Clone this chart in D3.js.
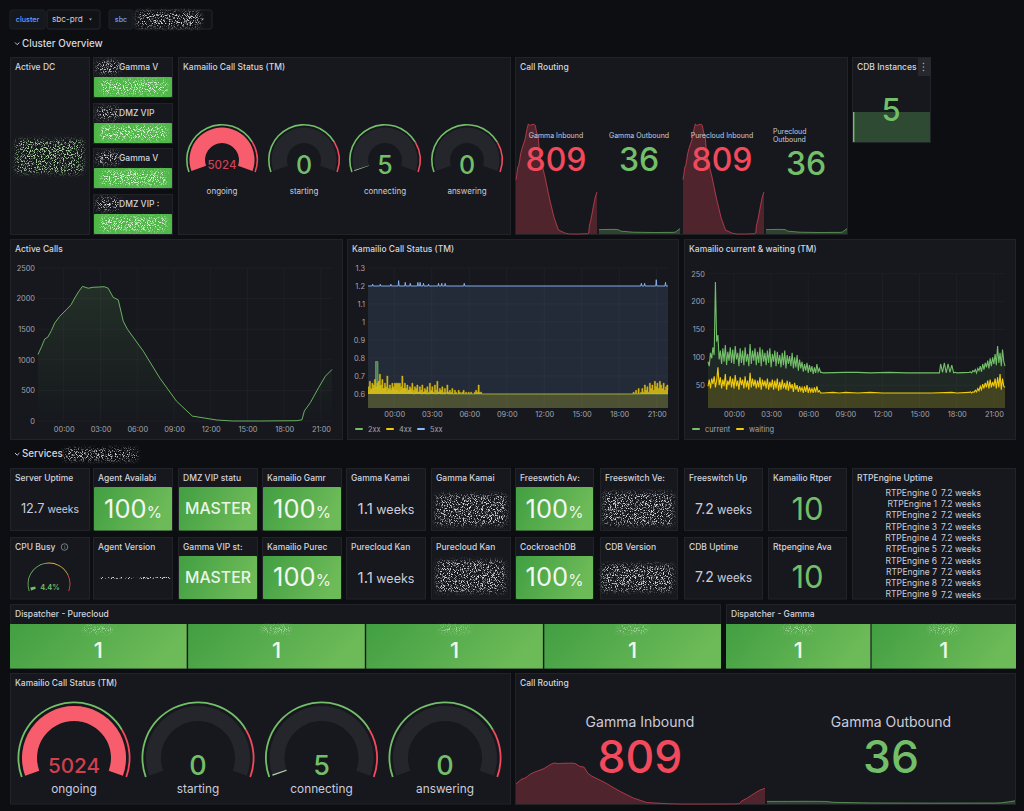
<!DOCTYPE html>
<html>
<head>
<meta charset="utf-8">
<script src="https://cdn.jsdelivr.net/npm/d3@7"></script>
<style>
  html, body { margin: 0; padding: 0; background: #0c0e12; overflow: hidden; }
  svg { display: block; font-family: Inter, "Noto Sans", sans-serif; }
  .axis text { fill: #a3a5ad; font-size: 7.4px; font-family: Inter, sans-serif; }
  .axis path, .axis line { display: none; }
</style>
</head>
<body>
<svg id="board" width="1024" height="811"></svg>
<script>
// hours relative to midnight, picked off the Active Calls curve
const callHours = [-2.1,-1.8,-1.55,-1.3,-1.0,-0.74,-0.33,0.22,0.6,0.9,1.2,1.53,2,2.4,2.95,3.3,3.63,4.04,4.45,4.86,5.2,6.5,7.85,9.2,10.5,12.5,13.8,16,19.04,19.45,19.64,20.13,20.8,21.36,21.9];
const activeCalls = [1087,1220,1340,1370,1480,1600,1710,1820,1900,2010,2110,2200,2170,2185,2190,2195,2170,2020,1980,1630,1500,1140,700,326,80,16,0,0,5,20,163,300,543,733,842];

const outboundHours = [-2.1,-1,0,1.5,3,3.6,4.4,8,14,20,20.6,21.3,21.9];
const outboundCalls = [29,30,30,31,30,29,19,12,10,11,14,26,36];

// 2xx, one sample every 0.2h from -2.1h
const sampleStart = -2.1;
const sampleStep = 0.2;
const status2xx = [.61,.62,.63,.78,.64,.62,.63,.61,.62,.63,.62,.62,.61,.62,.63,.61,.62,.61,.60,.61,
  .61,.60,.61,.60,.60,.61,.60,.60,.61,.60,.60,.61,.60,.60,.60,.60,.60,.60,.60,.60,
  .60,.60,.60,.60,.60,.60,.60,.60,.60,.60,.60,.60,.60,.60,.60,.60,.60,.60,.60,.60,
  .60,.60,.60,.60,.60,.60,.60,.60,.60,.60,.60,.60,.60,.60,.60,.60,.60,.60,.60,.60,
  .60,.60,.60,.60,.60,.60,.60,.60,.60,.60,.60,.60,.60,.60,.60,.60,.60,.60,.60,.60,
  .60,.60,.60,.60,.60,.60,.60,.60,.60,.60,.60,.60,.60,.60,.60,.60,.60,.60,.60,.60,.60];

// 4xx, current & waiting: busy stretches every 0.1h, quiet middle as knots
const early4xx = [.64,.67,.63,.66,.65,.68,.64,.66,.67,.71,
  .65,.68,.63,.66,.64,.70,.63,.65,.62,.66,
  .64,.66,.66,.66,.66,.66,.64,.70,.63,.66,
  .63,.65,.62,.64,.63,.66,.62,.64,.63,.65,
  .61,.64,.62,.65,.61,.63,.62,.64,.61,.66,
  .62,.64,.61,.65,.62,.67,.61,.63,.62,.64,
  .61,.63,.60,.65,.61,.62,.61,.63,.60,.62,
  .61,.60,.62,.61,.60,.61,.62,.60,.61,.60,
  .61,.60,.61,.60,.60,.61,.62,.61,.65,.61,
  .61,.60,.60];
const mid4xxHours = [7.2, 19];
const mid4xx = [.60, .60];
const late4xx = [.61,.60,.62,.60,.63,.60,.61,.63,.61,.65,.62,.64,.61,.66,.63,.65,.62,.67,.64,.66,.63,.67,.65,.63,.66,.62,.64,.65,.62];

const spike5xxHours = [-1.73,-1.12,-.27,.35,.88,1.28,1.89,2.07,2.34,2.74,3.54,3.8,4.07,5.6,19.77,20.03,20.96,21.7];
const spike5xxTops = [1.21,1.21,1.21,1.23,1.22,1.215,1.22,1.22,1.215,1.21,1.215,1.215,1.215,1.215,1.215,1.215,1.235,1.22];

const earlyCurrent = [92,84,108,98,118,104,235,128,140,96,
  112,88,116,92,122,86,110,94,118,90,
  114,88,120,96,108,84,116,90,112,86,
  118,92,106,84,124,88,112,94,116,86,
  110,90,118,84,114,92,108,86,112,90,
  116,82,106,92,112,84,110,88,104,82,
  108,86,112,80,104,88,102,84,108,80,
  100,82,104,76,96,80,92,74,88,76,
  90,72,86,74,84,70,82,72,88,74,
  80,73,73];
const midCurrentHours = [7.2,9,10,11,12.5,14,16.6,16.7,16.85,17,17.15,17.3,17.45,17.6,17.75,17.9,18,19];
const midCurrent = [72,73,73,72,73,72,72,88,73,90,72,88,73,86,72,73,72,73];
const lateCurrent = [74,72,76,74,78,72,80,76,84,74,88,78,90,82,94,80,98,84,100,88,106,86,120,90,108,84,114,92,84];

const earlyWaiting = [48,60,44,62,52,66,46,58,82,50,
  64,44,60,48,70,42,58,50,66,46,
  62,44,68,48,58,42,64,50,60,44,
  66,46,58,42,72,46,62,48,60,44,
  58,46,64,42,60,48,58,44,62,42,
  56,46,60,42,58,44,62,40,56,42,
  60,44,54,42,58,40,56,44,52,38,
  54,42,50,38,48,40,46,36,48,38,
  50,36,46,38,44,36,46,37,48,38,
  40,36,36];
const midWaitingHours = [7.2,8,8.5,9,10,11,12,14,16,17.6,18,19];
const midWaiting = [36,37,36,37,36,37,36,36,36,37,36,37];
const lateWaiting = [38,36,38,37,41,38,44,40,48,42,52,44,54,46,58,44,60,46,56,48,62,44,64,46,70,42,62,48,46];

const hourTicks = [0, 3, 6, 9, 12, 15, 18, 21];
const activeTicks = [0, 500, 1000, 1500, 2000, 2500];
const statusTicks = [0.6, 0.7, 0.8, 0.9, 1, 1.1, 1.2, 1.3];
const currentTicks = [50, 100, 150, 200, 250];

const gaugeNames = ['ongoing', 'starting', 'connecting', 'answering'];
const gaugeValues = [5024, 0, 5, 0];

const serviceTitlesTop = ['Server Uptime', 'Agent Availabi', 'DMZ VIP statu', 'Kamailio Gamr', 'Gamma Kamai', 'Gamma Kamai', 'Freeswtich Av:', 'Freeswitch Ve:', 'Freeswitch Up', 'Kamailio Rtper'];
const serviceValuesTop = ['12.7 weeks', '100%', 'MASTER', '100%', '1.1 weeks', null, '100%', null, '7.2 weeks', '10'];
const serviceTitlesBottom = ['CPU Busy', 'Agent Version', 'Gamma VIP st:', 'Kamailio Purec', 'Purecloud Kan', 'Purecloud Kan', 'CockroachDB', 'CDB Version', 'CDB Uptime', 'Rtpengine Ava'];
const serviceValuesBottom = [null, null, 'MASTER', '100%', '1.1 weeks', null, '100%', null, '7.2 weeks', '10'];

const rtpEngines = ['RTPEngine 0', 'RTPEngine 1', 'RTPEngine 2', 'RTPEngine 3', 'RTPEngine 4', 'RTPEngine 5', 'RTPEngine 6', 'RTPEngine 7', 'RTPEngine 8', 'RTPEngine 9'];
const rtpUptime = ['7.2 weeks', '7.2 weeks', '7.2 weeks', '7.2 weeks', '7.2 weeks', '7.2 weeks', '7.2 weeks', '7.2 weeks', '7.2 weeks', '7.2 weeks'];

const dispatcherPurecloud = [1, 1, 1, 1];
const dispatcherGamma = [1, 1];
const vipTitles = ['Gamma V', 'DMZ VIP', 'Gamma V', 'DMZ VIP :'];

const GREEN = '#73bf69', RED = '#f2495c', YELLOW = '#f2cc0c', BLUE = '#8ab8ff', TEXT = '#ccccdc', DIM = '#a3a5ad';

const svg = d3.select('#board');
const defs = svg.append('defs');

const statFill = defs.append('linearGradient').attr('id', 'statFill').attr('x1', 0).attr('x2', 1).attr('y1', 0).attr('y2', 0.25);
statFill.append('stop').attr('offset', 0).attr('stop-color', '#419f42');
statFill.append('stop').attr('offset', 1).attr('stop-color', '#6dba58');

const callsFill = defs.append('linearGradient').attr('id', 'callsFill').attr('x1', 0).attr('x2', 0).attr('y1', 0).attr('y2', 1);
callsFill.append('stop').attr('offset', 0).attr('stop-color', GREEN).attr('stop-opacity', 0.14);
callsFill.append('stop').attr('offset', 1).attr('stop-color', GREEN).attr('stop-opacity', 0);

// speckle used for the blurred-out hostnames
function speckle(id, rgb, soft) {
  const f = defs.append('filter').attr('id', id).attr('x', '-15%').attr('y', '-30%').attr('width', '130%').attr('height', '160%');
  f.append('feTurbulence').attr('type', 'fractalNoise').attr('baseFrequency', 1.15).attr('numOctaves', 2).attr('seed', 4).attr('result', 'n');
  f.append('feColorMatrix').attr('in', 'n').attr('type', 'matrix')
    .attr('values', `0 0 0 0 ${rgb[0]} 0 0 0 0 ${rgb[1]} 0 0 0 0 ${rgb[2]} 0 0 0 -6 2.95`).attr('result', 'dots');
  f.append('feGaussianBlur').attr('in', 'SourceAlpha').attr('stdDeviation', soft).attr('result', 'soft');
  f.append('feComposite').attr('in', 'dots').attr('in2', 'soft').attr('operator', 'in');
}
speckle('noiseGrey', [0.66, 0.66, 0.68], 2.4);
speckle('noiseGreen', [0.42, 0.68, 0.36], 2.8);
speckle('noiseLight', [0.85, 0.95, 0.82], 2.2);
speckle('noiseThin', [0.7, 0.7, 0.72], 0.4);

function noise(x, y, w, h, id, opacity) {
  svg.append('rect').attr('x', x).attr('y', y).attr('width', w).attr('height', h).attr('rx', 3).attr('fill', '#fff')
    .attr('opacity', opacity || 1).attr('filter', `url(#${id})`);
}

function label(parent, x, y, str, size, color, anchor, weight) {
  return parent.append('text').attr('x', x).attr('y', y).attr('dy', '0.35em')
    .attr('text-anchor', anchor || 'start').attr('font-size', size).attr('fill', color || TEXT)
    .attr('font-weight', weight || 400).text(str);
}

function panel(x, y, w, h, title) {
  svg.append('rect').attr('x', x + 0.5).attr('y', y + 0.5).attr('width', w - 1).attr('height', h - 1)
    .attr('fill', '#16181d').attr('stroke', '#212328');
  if (title) label(svg, x + 5, y + 10.5, title, 8.5, '#d3d4de', 'start', 500);
}

function chevron(x, y) {
  svg.append('path').attr('d', `M${x},${y} l2.2,2.2 l2.2,-2.2`).attr('fill', 'none').attr('stroke', TEXT).attr('stroke-width', 1);
}

// ---- top bar
[[10, 35, 'cluster'], [109, 24, 'sbc']].forEach(([x, w, t]) => {
  svg.append('rect').attr('x', x).attr('y', 10).attr('width', w).attr('height', 19).attr('rx', 2).attr('fill', '#15181d').attr('stroke', '#1f2126');
  label(svg, x + w / 2, 19.5, t, 7.2, '#6e9fff', 'middle', 500);
});
[[47, 53], [135, 77]].forEach(([x, w]) => {
  svg.append('rect').attr('x', x).attr('y', 10).attr('width', w).attr('height', 19).attr('rx', 2).attr('fill', '#101216').attr('stroke', '#25272c');
  svg.append('path').attr('d', `M${x + w - 11},18.5 l3,0 l-1.5,2 z`).attr('fill', DIM);
});
label(svg, 52, 19.5, 'sbc-prd', 8.2, TEXT);
noise(137, 12, 63, 15, 'noiseGrey');

chevron(15, 42.5);
label(svg, 22, 43.5, 'Cluster Overview', 9.8, '#d8d9de', 'start', 500);
chevron(15, 453);
label(svg, 22, 454, 'Services', 9.8, '#d8d9de', 'start', 500);
noise(64, 449, 73, 11, 'noiseGrey');

// ---- cluster overview row
panel(10, 57, 80, 178, 'Active DC');
noise(16, 140, 67, 33, 'noiseGreen');

const vipY = [57, 103, 148, 194];
vipTitles.forEach((t, i) => {
  const y = vipY[i];
  panel(93, y, 80, 41);
  noise(97, y + 4, 22, 12, 'noiseGrey');
  label(svg, 119, y + 10.5, t, 8.5, '#d3d4de', 'start', 500);
  svg.append('rect').attr('x', 94).attr('y', y + 20).attr('width', 78).attr('height', 20).attr('rx', 1).attr('fill', '#4fb748');
  noise(101, y + 23, 66, 14, 'noiseLight');
});

const gaugeArc = d3.arc();
const gaugeAngle = d3.scaleLinear().domain([0, 1]).range([-110, 110]).clamp(true);
const rad = d => d * Math.PI / 180;

function drawGauge(parent, cx, cy, r, value, name, opts) {
  const g = parent.append('g').attr('transform', `translate(${cx},${cy})`);
  const arc = (a0, a1, r0, r1) => gaugeArc({ innerRadius: r0, outerRadius: r1, startAngle: rad(a0), endAngle: rad(a1) });
  g.append('path').attr('d', arc(gaugeAngle(0), gaugeAngle(0.77), r - opts.ring, r)).attr('fill', GREEN);
  g.append('path').attr('d', arc(gaugeAngle(0.77), gaugeAngle(1), r - opts.ring, r)).attr('fill', RED);
  g.append('path').attr('d', arc(gaugeAngle(0), gaugeAngle(1), opts.r0, opts.r1)).attr('fill', '#24262c');
  const share = value / 5000;
  if (share > 0) {
    const end = Math.max(gaugeAngle(share), gaugeAngle(0) + 1.4);
    g.append('path').attr('d', arc(gaugeAngle(0), end, opts.r0, opts.r1))
      .attr('fill', share >= 0.77 ? '#f85d6d' : '#b9d8b2');
  }
  const hot = value >= 1000;
  label(g, 0, opts.textY, value, hot ? opts.hotSize : opts.size, hot ? '#d23f50' : GREEN, 'middle', 500);
  label(g, 0, opts.nameY, name, opts.nameSize, TEXT, 'middle');
}

panel(178, 57, 333, 178, 'Kamailio Call Status (TM)');
const smallGaugeX = [222, 304, 385, 467];
gaugeNames.forEach((n, i) => drawGauge(svg, smallGaugeX[i], 160, 36, gaugeValues[i], n,
  { ring: 1.6, r0: 17, r1: 32.5, size: 25, hotSize: 11.5, textY: 5, nameY: 31, nameSize: 8 }));

panel(515, 57, 333, 178, 'Call Routing');

// sparkline shared by the call routing panels
function spark(x0, x1, yBottom, height, hours, values, top, color) {
  const x = d3.scaleLinear().domain([-2.1, 21.9]).range([x0, x1]);
  const y = d3.scaleLinear().domain([0, top]).range([yBottom, yBottom - height]);
  const pts = hours.map((h, i) => [h, values[i]]);
  svg.append('path').datum(pts).attr('fill', color).attr('fill-opacity', 0.26)
    .attr('d', d3.area().x(d => x(d[0])).y0(yBottom).y1(d => y(d[1])));
  svg.append('path').datum(pts).attr('fill', 'none').attr('stroke', color).attr('stroke-width', 0.9).attr('stroke-opacity', 0.7)
    .attr('d', d3.line().x(d => x(d[0])).y(d => y(d[1])));
}

spark(516, 597, 234, 110, callHours, activeCalls, 2200, RED);
spark(599, 680, 234, 6, outboundHours, outboundCalls, 40, GREEN);
spark(683, 764, 234, 110, callHours, activeCalls, 2200, RED);
spark(766, 847, 234, 6, outboundHours, outboundCalls, 40, GREEN);
label(svg, 556, 135.5, 'Gamma Inbound', 7, TEXT, 'middle');
label(svg, 639, 135.5, 'Gamma Outbound', 7, TEXT, 'middle');
label(svg, 722, 135.5, 'Purecloud Inbound', 7, TEXT, 'middle');
label(svg, 773, 131.5, 'Purecloud', 7, TEXT);
label(svg, 773, 139.5, 'Outbound', 7, TEXT);
label(svg, 556, 160, '809', 32, RED, 'middle', 500);
label(svg, 639, 160, '36', 32, GREEN, 'middle', 500);
label(svg, 722, 160, '809', 32, RED, 'middle', 500);
label(svg, 806, 164, '36', 32, GREEN, 'middle', 500);

panel(852, 57, 79, 86, 'CDB Instances');
svg.append('rect').attr('x', 853).attr('y', 112).attr('width', 77).attr('height', 30).attr('fill', '#2f4a33');
svg.append('rect').attr('x', 853).attr('y', 112).attr('width', 1.4).attr('height', 30).attr('fill', GREEN);
svg.append('rect').attr('x', 918).attr('y', 58).attr('width', 13).attr('height', 18).attr('fill', '#26282d');
[63.5, 67, 70.5].forEach(y => svg.append('circle').attr('cx', 923.5).attr('cy', y).attr('r', 0.8).attr('fill', DIM));
label(svg, 891, 110, '5', 31, GREEN, 'middle', 500);

// ---- time series row
function timePanel(x0, x1, yBottom, yTop, domain, ticks, tickRight, labelY) {
  const x = d3.scaleLinear().domain([-2.1, 21.9]).range([x0, x1]);
  const y = d3.scaleLinear().domain(domain).range([yBottom, yTop]);
  const grid = svg.append('g').attr('stroke', '#fff').attr('stroke-opacity', 0.03);
  hourTicks.forEach(h => grid.append('line').attr('x1', x(h)).attr('x2', x(h)).attr('y1', yTop).attr('y2', yBottom));
  ticks.forEach(t => grid.append('line').attr('x1', x0).attr('x2', x1).attr('y1', y(t)).attr('y2', y(t)));
  const xAxis = d3.axisBottom(x).tickValues(hourTicks).tickSize(0).tickPadding(0)
    .tickFormat(h => String(h).padStart(2, '0') + ':00');
  svg.append('g').attr('class', 'axis').attr('transform', `translate(0,${labelY - 4.5})`).call(xAxis);
  const yAxis = d3.axisLeft(y).tickValues(ticks).tickSize(0).tickPadding(0).tickFormat(d3.format('~g'));
  svg.append('g').attr('class', 'axis').attr('transform', `translate(${tickRight},0)`).call(yAxis);
  return { x, y, yBottom };
}

function series(plot, pts, color, fillOpacity, curve, width, strokeOpacity) {
  svg.append('path').datum(pts).attr('fill', color).attr('fill-opacity', fillOpacity)
    .attr('d', d3.area().curve(curve).x(d => plot.x(d[0])).y0(plot.yBottom).y1(d => plot.y(d[1])));
  svg.append('path').datum(pts).attr('fill', 'none').attr('stroke', color).attr('stroke-width', width)
    .attr('stroke-opacity', strokeOpacity || 1)
    .attr('d', d3.line().curve(curve).x(d => plot.x(d[0])).y(d => plot.y(d[1])));
}

// bright block between a series and its 0.6 floor, the dense spikes of the status panel
function floorFill(plot, pts, color, opacity) {
  svg.append('path').datum(pts).attr('fill', color).attr('fill-opacity', opacity)
    .attr('d', d3.area().curve(d3.curveStepAfter).x(d => plot.x(d[0])).y0(plot.y(0.6)).y1(d => plot.y(d[1])));
}

function legend(entries, y) {
  entries.forEach(([x, color, name]) => {
    svg.append('rect').attr('x', x).attr('y', y - 1).attr('width', 8).attr('height', 2).attr('rx', 1).attr('fill', color);
    label(svg, x + 13, y, name, 7.4, DIM);
  });
}

const sampled = vals => vals.map((v, i) => [sampleStart + i * sampleStep, v]);
const stitched = (early, midHours, mid, late) => [
  ...early.map((v, i) => [-2.1 + i * 0.1, v]),
  ...mid.map((v, i) => [midHours[i], v]),
  ...late.map((v, i) => [19.1 + i * 0.1, v])
];

panel(10, 239, 333, 201, 'Active Calls');
const callsPlot = timePanel(38, 332, 421, 268, [0, 2500], activeTicks, 35, 431);
const callPts = callHours.map((h, i) => [h, activeCalls[i]]);
svg.append('path').datum(callPts).attr('fill', 'url(#callsFill)')
  .attr('d', d3.area().x(d => callsPlot.x(d[0])).y0(421).y1(d => callsPlot.y(d[1])));
svg.append('path').datum(callPts).attr('fill', 'none').attr('stroke', GREEN).attr('stroke-width', 0.9)
  .attr('d', d3.line().x(d => callsPlot.x(d[0])).y(d => callsPlot.y(d[1])));

panel(347, 239, 332, 201, 'Kamailio Call Status (TM)');
const statusPlot = timePanel(368, 668, 408, 268, [0.522, 1.3], statusTicks, 365, 416);
const spikePts = [[-2.1, 1.2], ...spike5xxHours.flatMap((h, i) => [[h - 0.04, 1.2], [h, spike5xxTops[i]], [h + 0.04, 1.2]]), [21.9, 1.2]];
const points4xx = stitched(early4xx, mid4xxHours, mid4xx, late4xx);
series(statusPlot, spikePts, BLUE, 0.12, d3.curveLinear, 0.9);
series(statusPlot, sampled(status2xx), GREEN, 0.1, d3.curveStepAfter, 0.7, 0.8);
floorFill(statusPlot, sampled(status2xx), GREEN, 0.55);
series(statusPlot, points4xx, YELLOW, 0.17, d3.curveStepAfter, 0.6, 0.6);
floorFill(statusPlot, points4xx, '#e3c40f', 0.82);
legend([[355, GREEN, '2xx'], [386, YELLOW, '4xx'], [417, BLUE, '5xx']], 429);

panel(684, 239, 332, 201, 'Kamailio current & waiting (TM)');
const currentPlot = timePanel(708, 1005, 408, 273.7, [9, 250], currentTicks, 705, 416);
series(currentPlot, stitched(earlyCurrent, midCurrentHours, midCurrent, lateCurrent), GREEN, 0.1, d3.curveLinear, 1.1);
series(currentPlot, stitched(earlyWaiting, midWaitingHours, midWaiting, lateWaiting), YELLOW, 0.17, d3.curveLinear, 1.1);
legend([[692, GREEN, 'current'], [736, YELLOW, 'waiting']], 429);

// ---- services grid
const colX = [10, 93, 178, 262, 346, 431, 515, 600, 684, 768];
const colW = [80, 80, 80, 80, 80, 80, 79, 78, 79, 79];
const weekSizes = { '12.7': [12.7, 10.4], '1.1': [15, 12.5], '7.2': [14, 11.5] };

function statValue(cx, cy, x, y, w, h, value) {
  if (value === 'MASTER' || value === '100%') {
    svg.append('rect').attr('x', x + 1).attr('y', y).attr('width', w - 2).attr('height', h).attr('rx', 1).attr('fill', 'url(#statFill)');
  }
  if (value === 'MASTER') {
    label(svg, cx, cy, value, 15.8, '#eaf5e6', 'middle', 500);
  } else if (value === '100%') {
    const t = label(svg, cx, cy, '100', 25.5, '#f2f7ef', 'middle', 400);
    t.append('tspan').attr('font-size', 15.5).text('%');
  } else if (value && value.endsWith('weeks')) {
    const num = value.split(' ')[0];
    const t = label(svg, cx, cy, num, weekSizes[num][0], TEXT, 'middle', 400);
    t.append('tspan').attr('font-size', weekSizes[num][1]).text(' weeks');
  } else if (value) {
    label(svg, cx, cy, value, 31, GREEN, 'middle', 400);
  }
}

const rowTop = { y: 468, h: 63, fillY: 487, fillH: 43.5 };
const rowBottom = { y: 537, h: 62.5, fillY: 556, fillH: 43 };
[[rowTop, serviceTitlesTop, serviceValuesTop], [rowBottom, serviceTitlesBottom, serviceValuesBottom]].forEach(([row, titles, values]) => {
  titles.forEach((t, i) => {
    panel(colX[i], row.y, colW[i], row.h, t);
    statValue(colX[i] + colW[i] / 2, row.fillY + row.fillH / 2, colX[i], row.fillY, colW[i], row.fillH, values[i]);
  });
});
noise(436, 495, 70, 30, 'noiseGrey');
noise(437, 561, 68, 31, 'noiseGrey');
noise(604, 493, 69, 32, 'noiseGrey');
noise(602, 565, 71, 26, 'noiseGrey');
noise(99, 577, 72, 2, 'noiseThin');

// cpu busy mini gauge
const cpuGauge = svg.append('g').attr('transform', 'translate(49,584)');
const cpuAngle = d3.scaleLinear().domain([0, 100]).range([-110, 110]);
const cpuBands = [[0, 45, GREEN], [45, 80, '#d7b13b'], [80, 100, RED]];
cpuBands.forEach(([a, b, c]) => cpuGauge.append('path').attr('fill', c)
  .attr('d', gaugeArc({ innerRadius: 20.6, outerRadius: 21.4, startAngle: rad(cpuAngle(a)), endAngle: rad(cpuAngle(b)) })));
cpuGauge.append('path').attr('fill', GREEN)
  .attr('d', gaugeArc({ innerRadius: 14, outerRadius: 19, startAngle: rad(cpuAngle(0)), endAngle: rad(cpuAngle(4.4)) }));
label(cpuGauge, 1, 3, '4.4%', 7.5, GREEN, 'middle', 600);
svg.append('circle').attr('cx', 64.5).attr('cy', 547).attr('r', 3.3).attr('fill', 'none').attr('stroke', DIM).attr('stroke-width', 0.7);
label(svg, 64.5, 547, 'i', 5, DIM, 'middle');

// rtpengine list
panel(852, 468, 164, 131.5, 'RTPEngine Uptime');
const rtpRow = d3.scalePoint().domain(d3.range(rtpEngines.length)).range([492.7, 594.5]);
rtpEngines.forEach((name, i) => {
  label(svg, 937, rtpRow(i), name, 8.5, TEXT, 'end');
  label(svg, 941, rtpRow(i), rtpUptime[i], 8.6, TEXT);
});

// ---- dispatcher row
function dispatcher(x, w, title, values) {
  panel(x, 604, w, 65, title);
  const band = d3.scaleBand().domain(d3.range(values.length)).range([x, x + w]).paddingInner(0.008);
  values.forEach((v, i) => {
    svg.append('rect').attr('x', band(i)).attr('y', 624).attr('width', band.bandwidth()).attr('height', 44.5).attr('fill', 'url(#statFill)');
    label(svg, band(i) + band.bandwidth() / 2, 650, v, 22, '#f0f7ec', 'middle', 500);
    noise(band(i) + band.bandwidth() / 2 - 15, 626, 30, 7, 'noiseLight', 0.6);
  });
}
dispatcher(10, 711, 'Dispatcher - Purecloud', dispatcherPurecloud);
dispatcher(726, 290, 'Dispatcher - Gamma', dispatcherGamma);

// ---- bottom row
panel(10, 673, 501, 131.5, 'Kamailio Call Status (TM)');
const bigGaugeX = [74, 198, 321.5, 445];
gaugeNames.forEach((n, i) => drawGauge(svg, bigGaugeX[i], 758, 56.5, gaugeValues[i], n,
  { ring: 1.8, r0: 37, r1: 52, size: 27, hotSize: 20.7, textY: 7.5, nameY: 31, nameSize: 11.8 }));

panel(515, 673, 501, 132, 'Call Routing');
spark(516, 765, 804, 41, callHours, activeCalls, 2200, RED);
spark(767, 1015, 804, 3.5, outboundHours, outboundCalls, 40, GREEN);
label(svg, 640, 722, 'Gamma Inbound', 14, TEXT, 'middle');
label(svg, 891, 722, 'Gamma Outbound', 14, TEXT, 'middle');
label(svg, 640, 757, '809', 44.5, RED, 'middle', 500);
label(svg, 891, 757, '36', 44.5, GREEN, 'middle', 500);
</script>
</body>
</html>
